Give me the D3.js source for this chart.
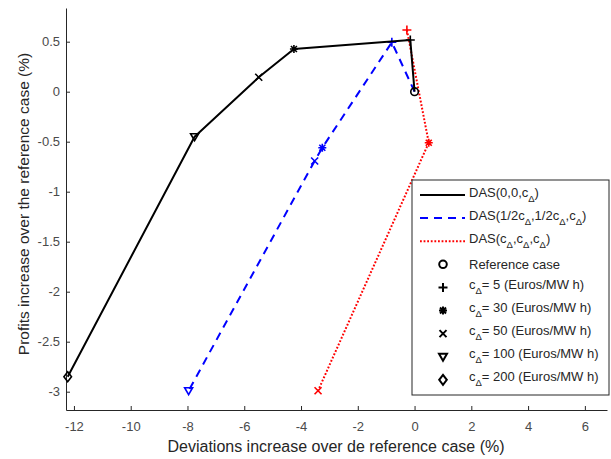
<!DOCTYPE html>
<html>
<head>
<meta charset="utf-8">
<script src="https://cdn.jsdelivr.net/npm/d3@7"></script>
<style>
  html, body { margin: 0; padding: 0; background: #fff; }
  svg { display: block; font-family: "Liberation Sans", Arial, Helvetica, sans-serif; }
</style>
</head>
<body>
<svg id="chart" width="611" height="459"></svg>
<script>
// Axis ticks
const xTicks = [-12, -10, -8, -6, -4, -2, 0, 2, 4, 6];
const yTicks = [0.5, 0, -0.5, -1, -1.5, -2, -2.5, -3];

// DAS(0,0,cΔ): reference, 5, 30, 50, 100, 200 Euros/MWh
const das1X = [0, -0.15, -4.25, -5.49, -7.75, -12.22];
const das1Y = [0, 0.517, 0.427, 0.144, -0.45, -2.85];
const das1M = ["none", "plus", "star", "cross", "tri", "diamond"];

// DAS(1/2cΔ,1/2cΔ,cΔ)
const das2X = [0, -0.80, -3.25, -3.52, -7.96];
const das2Y = [0, 0.494, -0.56, -0.693, -2.99];
const das2M = ["none", "plus", "star", "cross", "tri"];

// DAS(cΔ,cΔ,cΔ)
const das3X = [-0.27, 0.50, -3.40];
const das3Y = [0.617, -0.51, -2.99];
const das3M = ["plus", "star", "cross"];

// Reference case
const refX = [0];
const refY = [0];

const axisColor = "#262626";
const svg = d3.select("#chart");

const x = d3.scaleLinear().domain([-12.28, 6.78]).range([66, 607]);
const y = d3.scaleLinear().domain([-3.183, 0.837]).range([410, 8]);

// Marker shapes drawn as stroked paths
function markerPath(type) {
  switch (type) {
    case "plus": return "M-4.5,0H4.5M0,-4.5V4.5";
    case "cross": return "M-3.5,-3.5L3.5,3.5M-3.5,3.5L3.5,-3.5";
    case "star": return "M-4,0H4M0,-4V4M-3,-3L3,3M-3,3L3,-3";
    case "tri": return "M-4,-3L4,-3L0,4Z";
    case "diamond": return "M0,-5L3.8,0L0,5L-3.8,0Z";
    case "circle": return "M3.8,0A3.8,3.8 0 1,1 -3.8,0A3.8,3.8 0 1,1 3.8,0Z";
    default: return "";
  }
}

// Axes
const xAxis = d3.axisBottom(x).tickValues(xTicks).tickSizeInner(-4).tickSizeOuter(0)
  .tickPadding(12).tickFormat(d => String(d));
const yAxis = d3.axisLeft(y).tickValues(yTicks).tickSizeInner(-4).tickSizeOuter(0)
  .tickPadding(6).tickFormat(d => String(d));

const gx = svg.append("g").attr("transform", "translate(0,410)").call(xAxis);
const gy = svg.append("g").attr("transform", "translate(66,0)").call(yAxis);
[gx, gy].forEach(g => {
  g.select(".domain").attr("stroke", axisColor).attr("stroke-width", 1);
  g.selectAll(".tick line").attr("stroke", axisColor).attr("stroke-width", 1);
  g.selectAll(".tick text").attr("fill", "#4a4a4a").style("font-size", "13px");
});

// Axis titles
svg.append("text")
  .attr("x", 336).attr("y", 452)
  .attr("text-anchor", "middle")
  .attr("fill", "#262626")
  .style("font-size", "16px")
  .text("Deviations increase over de reference case (%)");

svg.append("text")
  .attr("transform", "translate(29,204) rotate(-90)")
  .attr("text-anchor", "middle")
  .attr("fill", "#262626")
  .style("font-size", "15.5px")
  .text("Profits increase over the reference case (%)");

// Series
const series = [
  { xs: das3X, ys: das3Y, ms: das3M, color: "#ff0000", dash: "1.8,1.8", width: 2 },
  { xs: das2X, ys: das2Y, ms: das2M, color: "#0000ff", dash: "8,6", width: 2 },
  { xs: das1X, ys: das1Y, ms: das1M, color: "#000000", dash: null, width: 2 }
];

const line = d3.line().x(d => x(d[0])).y(d => y(d[1]));

series.forEach(s => {
  const pts = s.xs.map((v, i) => [v, s.ys[i], s.ms[i]]);
  svg.append("path")
    .attr("d", line(pts))
    .attr("fill", "none")
    .attr("stroke", s.color)
    .attr("stroke-width", s.width)
    .attr("stroke-dasharray", s.dash)
    .attr("stroke-linejoin", "round");
  svg.append("g").selectAll("path")
    .data(pts.filter(p => p[2] !== "none"))
    .join("path")
    .attr("transform", p => `translate(${x(p[0])},${y(p[1])})`)
    .attr("d", p => markerPath(p[2]))
    .attr("fill", "none")
    .attr("stroke", s.color)
    .attr("stroke-width", 1.6);
});

// Reference case marker
svg.append("g").selectAll("path")
  .data(refX.map((v, i) => [v, refY[i]]))
  .join("path")
  .attr("transform", p => `translate(${x(p[0])},${y(p[1])})`)
  .attr("d", markerPath("circle"))
  .attr("fill", "none")
  .attr("stroke", "#000")
  .attr("stroke-width", 1.6);

// Legend
const legend = svg.append("g");
legend.append("rect")
  .attr("x", 412).attr("y", 180).attr("width", 197).attr("height", 215)
  .attr("fill", "#fff").attr("stroke", axisColor).attr("stroke-width", 1);

const rowY = i => 195 + i * 23.1;
const fontSize = 13;

// Writes text with Δ subscripts; parts: [text, isSub]
function richText(g, xPos, yPos, parts) {
  const t = g.append("text").attr("x", xPos).attr("y", yPos + 4.5)
    .attr("fill", "#262626").style("font-size", fontSize + "px");
  let lowered = false;
  parts.forEach(([str, sub]) => {
    const ts = t.append("tspan").text(str);
    if (sub) { ts.style("font-size", "9.5px").attr("dy", 5); lowered = true; }
    else if (lowered) { ts.attr("dy", -5); lowered = false; }
  });
}

const lineEntries = [
  { color: "#000000", dash: null, parts: [["DAS(0,0,c"], ["Δ", true], [")"]] },
  { color: "#0000ff", dash: "8,6", parts: [["DAS(1/2c"], ["Δ", true], [",1/2c"], ["Δ", true], [",c"], ["Δ", true], [")"]] },
  { color: "#ff0000", dash: "1.8,1.8", parts: [["DAS(c"], ["Δ", true], [",c"], ["Δ", true], [",c"], ["Δ", true], [")"]] }
];
lineEntries.forEach((e, i) => {
  legend.append("line")
    .attr("x1", 420).attr("x2", 465).attr("y1", rowY(i)).attr("y2", rowY(i))
    .attr("stroke", e.color).attr("stroke-width", 2)
    .attr("stroke-dasharray", e.dash);
  richText(legend, 469, rowY(i) - 3, e.parts);
});

const markerEntries = [
  { m: "circle", parts: [["Reference case"]] },
  { m: "plus", parts: [["c"], ["Δ", true], ["= 5 (Euros/MW h)"]] },
  { m: "star", parts: [["c"], ["Δ", true], ["= 30 (Euros/MW h)"]] },
  { m: "cross", parts: [["c"], ["Δ", true], ["= 50 (Euros/MW h)"]] },
  { m: "tri", parts: [["c"], ["Δ", true], ["= 100 (Euros/MW h)"]] },
  { m: "diamond", parts: [["c"], ["Δ", true], ["= 200 (Euros/MW h)"]] }
];
markerEntries.forEach((e, j) => {
  const i = j + 3;
  legend.append("path")
    .attr("transform", `translate(443,${rowY(i)})`)
    .attr("d", markerPath(e.m))
    .attr("fill", "none").attr("stroke", "#000").attr("stroke-width", 2);
  richText(legend, 469, rowY(i) - (j === 0 ? 0 : 3), e.parts);
});
</script>
</body>
</html>
